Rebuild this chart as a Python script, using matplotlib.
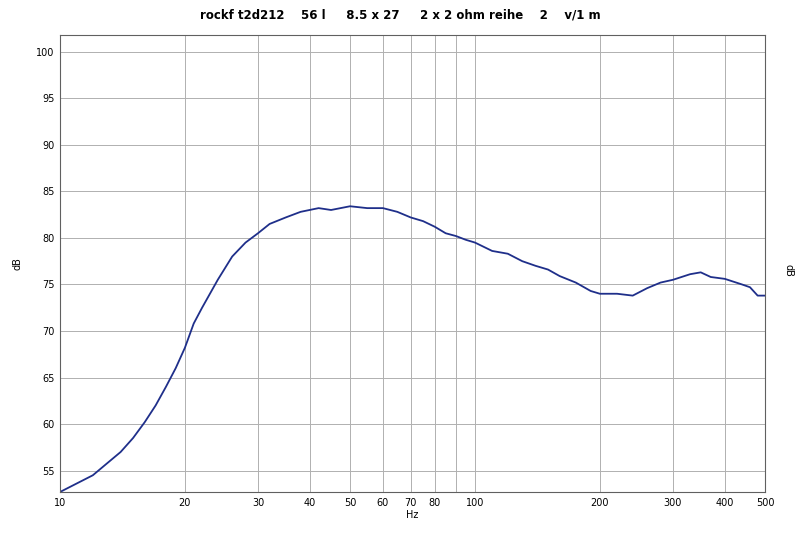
import matplotlib
matplotlib.use("Agg")
import matplotlib.pyplot as plt
from matplotlib.ticker import FixedLocator, NullLocator, FixedFormatter

freq = [10,12,13,14,15,16,17,18,19,20,21,22,24,26,28,30,32,35,38,42,45,50,55,60,65,70,75,80,85,90,95,100,110,120,130,140,150,160,175,190,200,220,240,260,280,300,330,350,370,400,440,460,480,500]
db = [52.7,54.5,55.8,57,58.5,60.2,62,64,66,68.2,70.8,72.5,75.5,78,79.5,80.5,81.5,82.2,82.8,83.2,83,83.4,83.2,83.2,82.8,82.2,81.8,81.2,80.5,80.2,79.8,79.5,78.6,78.3,77.5,77,76.6,75.9,75.2,74.3,74,74,73.8,74.6,75.2,75.5,76.1,76.3,75.8,75.6,75,74.7,73.8,73.8]
grid_x = [10,20,30,40,50,60,70,80,90,100,200,300,400,500]
xtick_vals = [10,20,30,40,50,60,70,80,100,200,300,400,500]
ytick_vals = [55,60,65,70,75,80,85,90,95,100]

fig = plt.figure(figsize=(8,5.48), dpi=100)
ax = fig.add_axes([60/800, 1-492/548, 705/800, 457/548])
ax.plot(freq, db, color="#1f2f8a", lw=1.3)
ax.set_xscale("log")
ax.set_xlim(10, 500)
ax.set_ylim(52.7, 101.8)
for g in grid_x:
    ax.axvline(g, color="#b0b0b0", lw=0.7, zorder=0)
for g in ytick_vals:
    ax.axhline(g, color="#b0b0b0", lw=0.7, zorder=0)
ax.xaxis.set_major_locator(FixedLocator(xtick_vals))
ax.xaxis.set_major_formatter(FixedFormatter([str(v) for v in xtick_vals]))
ax.xaxis.set_minor_locator(NullLocator())
ax.set_yticks(ytick_vals)
ax.tick_params(labelsize=7, length=0, pad=4)
for s in ax.spines.values():
    s.set_color("#606060")
ax.set_xlabel("Hz", fontsize=7, labelpad=2)
ax.set_ylabel("dB", fontsize=7, labelpad=10)
fig.text(788/800, 1-270/548, "dB", fontsize=7, rotation=-90, ha="center", va="center")
fig.text(0.5, 1-15/548, "rockf t2d212    56 l     8.5 x 27     2 x 2 ohm reihe    2    v/1 m",
         fontsize=8.5, fontweight="bold", ha="center", va="center")
fig.savefig("out.png", dpi=100)
